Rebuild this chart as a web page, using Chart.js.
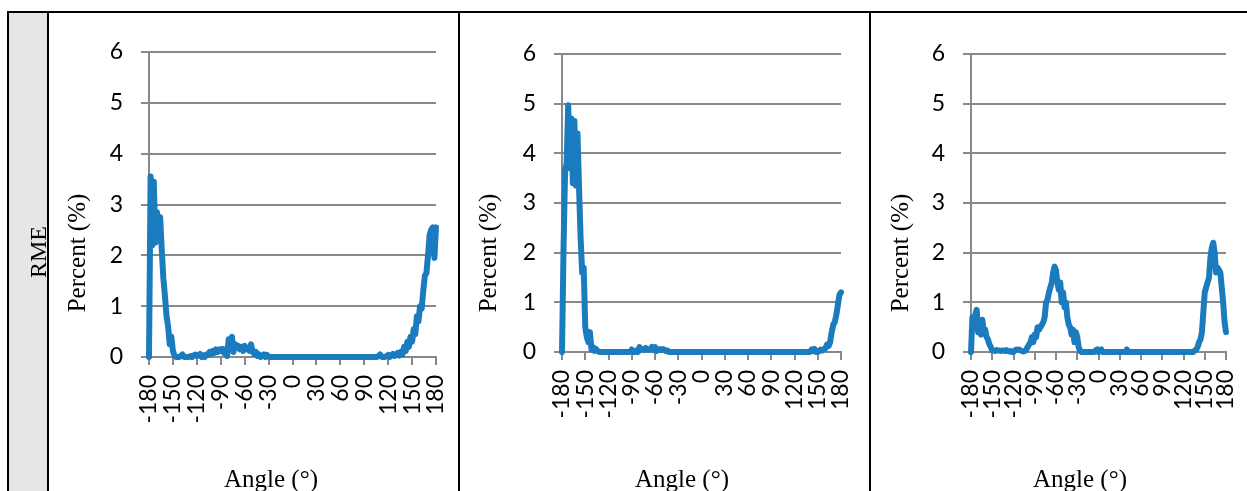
<!DOCTYPE html>
<html>
<head>
<meta charset="utf-8">
<script src="https://cdn.jsdelivr.net/npm/chart.js@4.4.1/dist/chart.umd.min.js"></script>
<style>
html,body{margin:0;padding:0;background:#fff;}
body{position:relative;width:1247px;height:491px;overflow:hidden;}
canvas{position:absolute;top:0;}
.ln{position:absolute;background:#000;z-index:3;}
#gray{position:absolute;left:9px;top:13px;width:38px;height:478px;background:#e7e6e6;z-index:1;}
#rme{position:absolute;left:38px;top:252px;transform:translate(-50%,-50%) rotate(-90deg);font-family:"Liberation Serif",serif;font-size:24px;line-height:24px;color:#000;white-space:nowrap;z-index:2;}
</style>
</head>
<body>
<div id="gray"></div>
<div id="rme">RME</div>
<canvas id="c1" width="408" height="491" style="left:50px"></canvas>
<canvas id="c2" width="406" height="491" style="left:462px"></canvas>
<canvas id="c3" width="375" height="491" style="left:872px"></canvas>
<div class="ln" style="left:7px;top:11px;width:1240px;height:2px"></div>
<div class="ln" style="left:7px;top:11px;width:2px;height:480px"></div>
<div class="ln" style="left:47px;top:11px;width:2px;height:480px"></div>
<div class="ln" style="left:458px;top:11px;width:2px;height:480px"></div>
<div class="ln" style="left:869px;top:11px;width:2px;height:480px"></div>
<script>
// Angles (degrees), every 2°
const angles = [
 -180,-178,-176,-174,-172,-170,-168,-166,-164,-162,
 -160,-158,-156,-154,-152,-150,-148,-146,-144,-142,
 -140,-138,-136,-134,-132,-130,-128,-126,-124,-122,
 -120,-118,-116,-114,-112,-110,-108,-106,-104,-102,
 -100,-98,-96,-94,-92,-90,-88,-86,-84,-82,
 -80,-78,-76,-74,-72,-70,-68,-66,-64,-62,
 -60,-58,-56,-54,-52,-50,-48,-46,-44,-42,
 -40,-38,-36,-34,-32,-30,-28,-26,-24,-22,
 -20,-18,-16,-14,-12,-10,-8,-6,-4,-2,
 0,2,4,6,8,10,12,14,16,18,
 20,22,24,26,28,30,32,34,36,38,
 40,42,44,46,48,50,52,54,56,58,
 60,62,64,66,68,70,72,74,76,78,
 80,82,84,86,88,90,92,94,96,98,
 100,102,104,106,108,110,112,114,116,118,
 120,122,124,126,128,130,132,134,136,138,
 140,142,144,146,148,150,152,154,156,158,
 160,162,164,166,168,170,172,174,176,178,
 180
];

// Panel 1 (percent)
const rme1 = [
 0,3.55,2.2,3.45,2.25,2.85,2.3,2.75,2.1,1.55,
 1.2,0.8,0.6,0.25,0.4,0.12,0.03,0,0,0,
 0.02,0.05,0,0,0,0,0.02,0,0.03,0.05,
 0.02,0.04,0.06,0,0.03,0,0.05,0.04,0.1,0.06,
 0.12,0.08,0.15,0.1,0.15,0.12,0.16,0.08,0.15,0.02,
 0.35,0.15,0.4,0.1,0.25,0.18,0.22,0.15,0.2,0.12,
 0.22,0.15,0.18,0.12,0.25,0.1,0.06,0.1,0.02,0.05,
 0,0.03,0.05,0,0.04,0,0,0,0,0,
 0,0,0,0,0,0,0,0,0,0,
 0,0,0,0,0,0,0,0,0,0,
 0,0,0,0,0,0,0,0,0,0,
 0,0,0,0,0,0,0,0,0,0,
 0,0,0,0,0,0,0,0,0,0,
 0,0,0,0,0,0,0,0,0,0,
 0,0,0,0,0.02,0.05,0,0,0,0.02,
 0.04,0,0.03,0.06,0.02,0.04,0.08,0.03,0.1,0.05,
 0.2,0.12,0.3,0.2,0.4,0.3,0.55,0.45,0.8,0.7,
 1.0,0.95,1.3,1.6,1.65,2.0,2.4,2.5,2.55,1.95,
 2.55
];

// Panel 2 (percent)
const rme2 = [
 0,2.1,3.65,3.8,4.97,3.7,4.7,3.4,4.65,3.35,
 4.4,3.3,2.3,1.6,1.7,0.5,0.3,0.2,0.4,0.05,
 0.1,0.02,0.06,0.02,0,0,0,0,0,0,
 0,0,0,0,0,0,0,0,0,0,
 0,0,0,0,0,0.05,0,0,0.03,0,
 0.1,0.05,0.06,0.04,0.08,0.05,0.04,0.06,0.1,0.04,
 0.1,0.02,0.05,0.06,0.04,0.06,0.05,0.02,0.03,0,
 0,0,0,0,0,0,0,0,0,0,
 0,0,0,0,0,0,0,0,0,0,
 0,0,0,0,0,0,0,0,0,0,
 0,0,0,0,0,0,0,0,0,0,
 0,0,0,0,0,0,0,0,0,0,
 0,0,0,0,0,0,0,0,0,0,
 0,0,0,0,0,0,0,0,0,0,
 0,0,0,0,0,0,0,0,0,0,
 0,0,0,0,0,0,0,0,0,0,
 0,0.05,0.02,0.06,0,0,0.02,0.05,0.03,0.05,
 0.08,0.15,0.12,0.2,0.4,0.55,0.6,0.75,0.95,1.15,
 1.2
];

// Panel 3 (percent)
const rme3 = [
 0,0.7,0.6,0.75,0.85,0.4,0.5,0.35,0.65,0.4,
 0.45,0.3,0.25,0.15,0.1,0.03,0.03,0.02,0.04,0.03,
 0.03,0.02,0.03,0.03,0.02,0.04,0.02,0.01,0.02,0,
 0,0.03,0.05,0.04,0.05,0.03,0.02,0.01,0.02,0.05,
 0.1,0.15,0.2,0.3,0.2,0.35,0.3,0.5,0.45,0.5,
 0.55,0.6,0.7,1.0,1.05,1.2,1.3,1.4,1.6,1.72,
 1.65,1.4,1.25,1.4,1.0,1.2,0.9,1.0,0.7,0.55,
 0.5,0.35,0.45,0.2,0.4,0.3,0.1,0.02,0,0,
 0,0,0,0,0,0,0,0,0.03,0.05,
 0,0.02,0.05,0,0,0,0,0,0,0,
 0,0,0,0,0,0,0,0,0,0,
 0.05,0,0,0,0,0,0,0,0,0,
 0,0,0,0,0,0,0,0,0,0,
 0,0,0,0,0,0,0,0,0,0,
 0,0,0,0,0,0,0,0,0,0,
 0,0,0,0,0,0,0,0,0.03,0.05,
 0.1,0.2,0.25,0.4,0.8,1.2,1.3,1.4,1.5,1.9,
 2.1,2.2,2.0,1.6,1.7,1.65,1.6,1.3,1.0,0.6,
 0.4
];

const xTickLabels = [-180,-150,-120,-90,-60,-30,0,30,60,90,120,150,180];
const yTickLabels = [0,1,2,3,4,5,6];
const xTitleText = 'Angle (°)';
const yTitleText = 'Percent (%)';

const GRID = '#898989';
const BLUE = '#1a7cbf';
const TICK_FONT = {family:'Lato', size:23};

const axisTitles = {
  id:'axisTitles',
  afterDraw(chart, args, opts){
    const ctx = chart.ctx;
    ctx.save();
    ctx.fillStyle = '#000';
    ctx.font = '25px "Liberation Serif"';
    ctx.textAlign = 'center';
    ctx.textBaseline = 'alphabetic';
    ctx.fillText(xTitleText, opts.xt[0], opts.xt[1]);
    ctx.translate(opts.yt[0], opts.yt[1]);
    ctx.rotate(-Math.PI/2);
    ctx.fillText(yTitleText, 0, 0);
    ctx.restore();
  }
};

// area: [left, right, top, bottom] margins of the plot area inside the canvas
function makeChart(id, values, area, xt, yt){
  const pts = angles.map((a,i)=>({x:a, y:values[i]}));
  return new Chart(document.getElementById(id), {
    type:'line',
    data:{datasets:[{data:pts, borderColor:BLUE, borderWidth:6, pointRadius:0, tension:0, clip:false,
      borderJoinStyle:'round', borderCapStyle:'round', fill:false}]},
    plugins:[axisTitles],
    options:{
      responsive:false, animation:false, events:[],
      layout:{padding:{left:0, right:area[1], top:area[2], bottom:0}},
      plugins:{legend:{display:false}, tooltip:{enabled:false}, title:{display:false},
        axisTitles:{xt:xt, yt:yt}},
      scales:{
        x:{type:'linear', min:-180, max:180,
          afterBuildTicks:s=>{s.ticks = xTickLabels.map(v=>({value:v}));},
          afterFit:s=>{s.height = area[3]; s.paddingLeft = 0; s.paddingRight = 0;},
          grid:{display:true, drawOnChartArea:false, drawTicks:true, tickLength:8, color:GRID, lineWidth:2},
          border:{display:true, color:GRID, width:2},
          ticks:{autoSkip:false, minRotation:90, maxRotation:90, padding:10, color:'#000', font:TICK_FONT,
            callback:v=>String(v)}
        },
        y:{min:0, max:6,
          afterBuildTicks:s=>{s.ticks = yTickLabels.map(v=>({value:v}));},
          afterFit:s=>{s.width = area[0]; s.paddingTop = 0; s.paddingBottom = 0;},
          grid:{color:GRID, lineWidth:2, drawTicks:true, tickLength:8},
          border:{display:true, color:GRID, width:2},
          ticks:{padding:18, color:'#000', font:TICK_FONT, callback:v=>String(v)}
        }
      }
    }
  });
}

makeChart('c1', rme1, [99, 22, 52, 134], [221,487], [35,253]);
makeChart('c2', rme2, [100, 27, 54, 139], [220,487], [34,253]);
makeChart('c3', rme3, [99, 21, 54, 139], [208,487], [36,253]);
</script>
</body>
</html>
